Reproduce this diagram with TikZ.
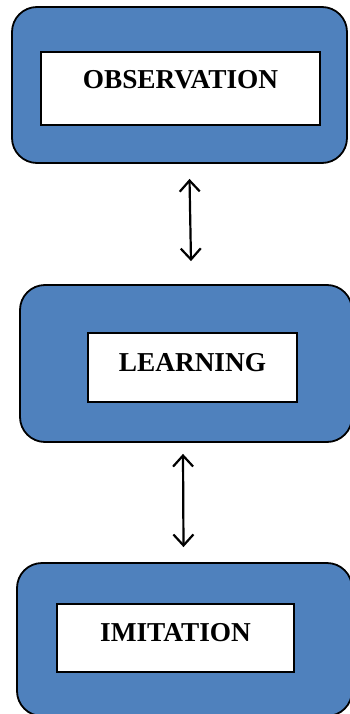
\documentclass[tikz,border=0pt]{standalone}
\usepackage{fontspec}
\setmainfont{Liberation Serif}
\usetikzlibrary{graphs,arrows.meta}

\definecolor{boxblue}{RGB}{79,129,189}

\tikzset{
  outerbox/.style={draw=black,line width=1.8pt,fill=boxblue,rounded corners=25pt,inner sep=0pt},
  textbox/.style={draw=black,line width=2pt,fill=white,inner sep=0pt,text height=37pt,text depth=33pt},
  twoway/.style={line width=2.2pt,{Straight Barb[length=11pt,width=20pt]}-{Straight Barb[length=11pt,width=20pt]}}
}

\begin{document}
\begin{tikzpicture}[x=1pt,y=-1pt,font=\fontsize{27.3pt}{32pt}\selectfont\bfseries]
\useasboundingbox (0,0) rectangle (349,714);
\graph [no placement]
{
  ObservationBox[x=179.5,y= 85.0,as=,outerbox,minimum width=335pt,minimum height=156pt],
    LearningBox[x=186.0,y=363.5,as=,outerbox,minimum width=332pt,minimum height=157pt],
   ImitationBox[x=184.5,y=639.5,as=,outerbox,minimum width=335pt,minimum height=153pt],

    OBSERVATION[x=180.5,y= 88.5,textbox,minimum width=279pt,text depth=36pt],
       LEARNING[x=192.5,y=367.5,textbox,minimum width=209pt,text height=38pt,text depth=31pt],
      IMITATION[x=175.5,y=638.0,textbox,minimum width=237pt,text depth=31pt]
};
\draw [twoway] ([xshift=10pt,yshift=-15pt]ObservationBox.south) -- ([xshift=5pt,yshift=23pt]LearningBox.north);
\draw [twoway] ([xshift=-3pt,yshift=-11pt]LearningBox.south) -- ([xshift=-1pt,yshift=15pt]ImitationBox.north);
\end{tikzpicture}
\end{document}
